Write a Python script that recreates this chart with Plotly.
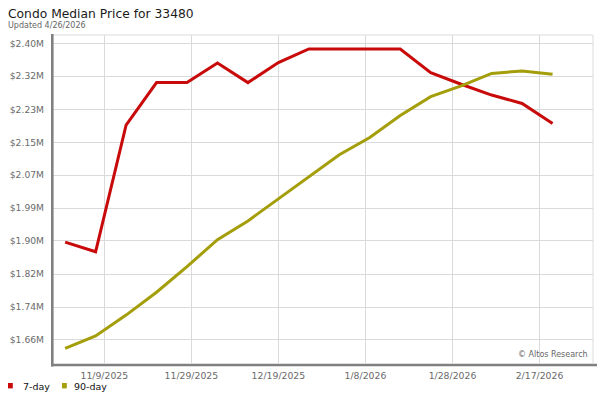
import plotly.graph_objects as go
import pandas as pd

# ---- data ----
dates = pd.date_range("2025-10-31", periods=17, freq="7D")
day7 = [1.902, 1.878, 2.194, 2.300, 2.300, 2.349, 2.300, 2.350, 2.384, 2.384,
        2.384, 2.384, 2.325, 2.296, 2.269, 2.248, 2.198]
day90 = [1.637, 1.668, 1.720, 1.777, 1.841, 1.908, 1.955, 2.010, 2.067, 2.120,
         2.163, 2.218, 2.265, 2.292, 2.323, 2.329, 2.321]
y_tick_vals = [1.658, 1.740, 1.822, 1.905, 1.987, 2.069, 2.151, 2.233, 2.316, 2.398]
y_tick_text = ["$1.66M", "$1.74M", "$1.82M", "$1.90M", "$1.99M",
               "$2.07M", "$2.15M", "$2.23M", "$2.32M", "$2.40M"]
series_names = ["7-day", "90-day"]
series_colors = ["#C80A0A", "#A39E0A"]

FONT = "DejaVu Sans"
L, R, T, B = 53, 593, 35, 363
W, H = R - L, B - T


def px(x):
    return (x - L) / W


def py(y):
    return (B - y) / H


fig = go.Figure()
for name, vals, col in zip(series_names, [day7, day90], series_colors):
    fig.add_trace(go.Scatter(x=dates, y=vals, name=name, mode="lines",
                             line=dict(color=col, width=3), showlegend=False,
                             hoverinfo="x+y"))

shapes = [
    # light top / right frame
    dict(type="line", xref="paper", yref="paper", x0=0, x1=1, y0=1, y1=1,
         line=dict(color="#dcdcdc", width=1), layer="below"),
    dict(type="line", xref="paper", yref="paper", x0=1, x1=1, y0=0, y1=1,
         line=dict(color="#dcdcdc", width=1), layer="below"),
    # heavy left / bottom axis lines
    dict(type="line", xref="paper", yref="paper", x0=px(52.3), x1=px(52.3),
         y0=py(34), y1=py(366.5), line=dict(color="#808080", width=2.6), layer="above"),
    dict(type="line", xref="paper", yref="paper", x0=px(51), x1=px(597),
         y0=py(365), y1=py(365), line=dict(color="#808080", width=2.6), layer="above"),
]
# legend squares
leg_sq_x = [8, 62]
for xs, col in zip(leg_sq_x, series_colors):
    shapes.append(dict(type="rect", xref="paper", yref="paper",
                       x0=px(xs), x1=px(xs + 4.8), y0=py(383), y1=py(388.4),
                       fillcolor=col, line=dict(width=0)))

annotations = [
    dict(text="Condo Median Price for 33480", xref="paper", yref="paper",
         x=px(5.5), y=py(13.5), xanchor="left", yanchor="middle", showarrow=False,
         font=dict(family=FONT, size=12.3, color="#1a1a1a")),
    dict(text="Updated 4/26/2026", xref="paper", yref="paper",
         x=px(5.5), y=py(25.5), xanchor="left", yanchor="middle", showarrow=False,
         font=dict(family=FONT, size=8, color="#666666")),
    dict(text="© Altos Research", xref="paper", yref="paper",
         x=px(590), y=py(354.5), xanchor="right", yanchor="middle", showarrow=False,
         font=dict(family=FONT, size=8, color="#666666")),
]
leg_txt_x = [21, 71.5]
for xt, name in zip(leg_txt_x, series_names):
    annotations.append(dict(text=name, xref="paper", yref="paper",
                            x=px(xt), y=py(386), xanchor="left", yanchor="middle",
                            showarrow=False,
                            font=dict(family=FONT, size=9.5, color="#111111")))

fig.update_layout(
    width=600, height=400,
    margin=dict(l=L, r=600 - R, t=T, b=400 - B, autoexpand=False),
    paper_bgcolor="white", plot_bgcolor="white",
    font=dict(family=FONT),
    showlegend=False,
    shapes=shapes,
    annotations=annotations,
    xaxis=dict(
        type="date", automargin=False,
        range=["2025-10-28 05:00", "2026-03-01 07:00"],
        tick0="2025-11-09", dtick=20 * 86400000,
        tickformat="%-m/%-d/%Y",
        showgrid=True, gridcolor="#dadada", gridwidth=1,
        showline=False, zeroline=False, ticks="",
        ticklabelstandoff=6,
        tickfont=dict(family=FONT, size=9.3, color="#6a6a6a"),
    ),
    yaxis=dict(
        automargin=False,
        range=[1.6005, 2.4188],
        tickvals=y_tick_vals, ticktext=y_tick_text,
        showgrid=True, gridcolor="#dadada", gridwidth=1,
        showline=False, zeroline=False, ticks="",
        ticklabelstandoff=8,
        tickfont=dict(family=FONT, size=9.2, color="#6a6a6a"),
    ),
)

fig.write_html("out.html",
               config={"displayModeBar": False},
               post_script="document.body.style.margin='0';document.body.style.overflow='hidden';")
